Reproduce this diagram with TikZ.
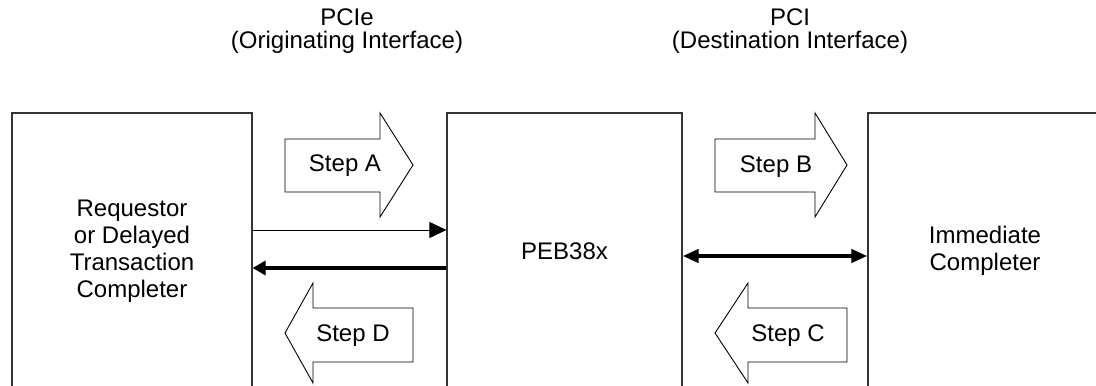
\documentclass[tikz,border=0pt]{standalone}
\usepackage{fontspec}
\setmainfont{Liberation Sans}
\usetikzlibrary{arrows.meta, positioning}

\begin{document}
\begin{tikzpicture}[x = 0.5pt, y = -0.5pt,
		every node/.style = {font = \fontsize{12}{13.5}\selectfont, align = center},
		unit/.style = {draw = black!80, line width = 0.6pt, minimum height = 138pt, inner sep = 0pt},
		steparrow/.style = {draw, line width = 0.45pt},
		thin flow/.style = {line width = 0.5pt, -{Triangle[length = 8.5pt, width = 8pt]}},
		thick flow/.style = {line width = 2.2pt, -{Triangle[length = 6.5pt, width = 7pt]}},
		both flow/.style = {line width = 2.2pt, {Triangle[length = 8pt, width = 6.5pt]}-{Triangle[length = 8pt, width = 6.5pt]}}]
				\useasboundingbox (0,0) rectangle (1096,385);
				\clip (0,0) rectangle (1096,385);
				\node [unit, minimum width = 120pt] (req) at (132,251) {Requestor\\or Delayed\\Transaction\\Completer};
				\node [unit, minimum width = 117.5pt] (peb) at (564.5,251) {PEB38x};
				\node [unit, minimum width = 117pt] (imm) at (985,251) {Immediate\\Completer};
				\node [font = \fontsize{12}{11.5}\selectfont] (pcie) at (347,31) {PCIe\\(Originating Interface)};
				\node [font = \fontsize{12}{11.5}\selectfont] (pci) at (790,31) {PCI\\(Destination Interface)};
				\draw [steparrow] (285,139) -- (380,139) -- (380,113) -- (413,165) -- (380,217) -- (380,192) -- (285,192) -- cycle;
				\draw [steparrow] (715,139) -- (815,139) -- (815,113) -- (847,165) -- (815,217) -- (815,192) -- (715,192) -- cycle;
				\draw [steparrow] (847,308) -- (748,308) -- (748,283) -- (715,333) -- (748,383) -- (748,362) -- (847,362) -- cycle;
				\draw [steparrow] (413,308) -- (313,308) -- (313,283) -- (285,333) -- (313,383) -- (313,362) -- (413,362) -- cycle;
				\node (stepA) at (345,166) {Step A};
				\node (stepB) at (776,167) {Step B};
				\node (stepC) at (788,336) {Step C};
				\node (stepD) at (353,336) {Step D};
				\draw [thin flow] ([yshift = 10.5pt]req.east) -- ([yshift = 10.5pt]peb.west);
				\draw [thick flow] ([yshift = -8.5pt]peb.west) -- ([yshift = -8.5pt]req.east);
				\draw [both flow] ([yshift = -2.5pt]peb.east) -- ([yshift = -2.5pt]imm.west);
			\end{tikzpicture}
\end{document}
